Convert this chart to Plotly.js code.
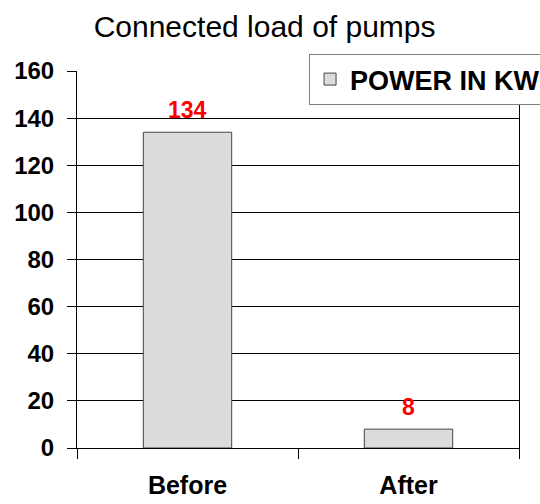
<!DOCTYPE html>
<html>
<head>
<meta charset="utf-8">
<script src="https://cdn.plot.ly/plotly-3.0.1.min.js"></script>
<style>
  html, body { margin: 0; padding: 0; background: #fff; }
  #plot { width: 540px; height: 504px; }
</style>
</head>
<body>
<div id="plot"></div>
<script>
const categories = ['Before', 'After'];
const powerKw = [134, 8];
const seriesName = 'POWER IN KW';
const yTicks = [0, 20, 40, 60, 80, 100, 120, 140, 160];

const font = 'Liberation Sans, Arial, sans-serif';

const data = [
    {
        type: 'bar',
        x: categories,
        y: powerKw,
        name: seriesName,
        width: 0.4,
        marker: { color: '#dcdcdc', line: { color: '#444444', width: 1 } },
        showlegend: true
    }
];

// red value labels above the bars
const labels = categories.map((c, i) => ({
    x: c,
    y: powerKw[i],
    text: String(powerKw[i]),
    showarrow: false,
    yanchor: 'bottom',
    yshift: 7,
    font: { family: font, size: 23, color: '#ff0000', weight: 'bold' }
}));

const layout = {
    width: 540,
    height: 504,
    // legend runs off the right edge in the original, so keep margins fixed
    margin: { l: 77, r: 21, t: 71, b: 56, autoexpand: false },
    paper_bgcolor: '#ffffff',
    plot_bgcolor: '#ffffff',
    font: { family: font, color: '#000000' },
    title: {
        text: 'Connected load of pumps',
        font: { family: font, size: 30, color: '#000000' },
        x: 0.49,
        xanchor: 'center',
        y: 0.947,
        yanchor: 'middle'
    },
    xaxis: {
        type: 'category',
        showline: true,
        linecolor: '#000000',
        linewidth: 1,
        ticks: 'outside',
        tickson: 'boundaries',
        ticklen: 10,
        tickcolor: '#000000',
        ticklabelstandoff: 15,
        tickfont: { family: font, size: 25, weight: 'bold', color: '#000000' },
        showgrid: false,
        zeroline: false
    },
    yaxis: {
        range: [0, 160],
        tickvals: yTicks,
        showline: true,
        mirror: true,
        linecolor: '#000000',
        linewidth: 1,
        ticks: 'outside',
        ticklen: 9,
        tickcolor: '#000000',
        ticklabelstandoff: 8,
        tickfont: { family: font, size: 24, weight: 'bold', color: '#000000' },
        showgrid: true,
        gridcolor: '#000000',
        gridwidth: 1,
        zeroline: false
    },
    showlegend: true,
    legend: {
        x: 0.525,
        xanchor: 'left',
        y: 1.045,
        yanchor: 'top',
        bgcolor: '#ffffff',
        bordercolor: '#808080',
        borderwidth: 1,
        font: { family: font, size: 27, weight: 'bold', color: '#000000' }
    },
    annotations: labels
};

Plotly.newPlot('plot', data, layout, { displayModeBar: false, staticPlot: true });
</script>
</body>
</html>
